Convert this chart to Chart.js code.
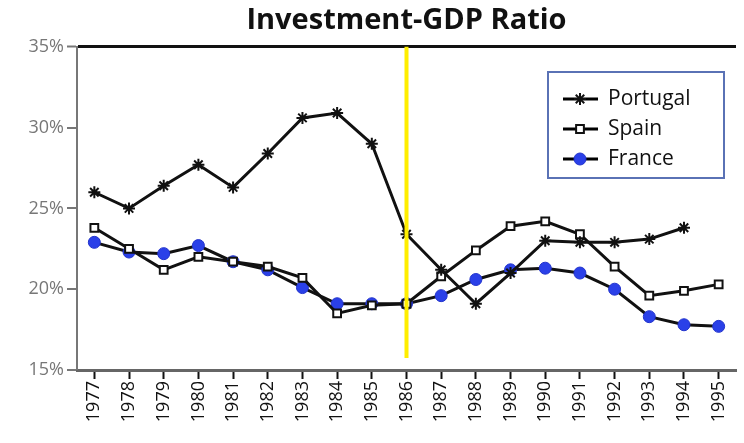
<!DOCTYPE html>
<html>
<head>
<meta charset="utf-8">
<script src="https://cdn.jsdelivr.net/npm/chart.js@4"></script>
<style>
  html, body { margin: 0; padding: 0; background: #fff; }
  #wrap { width: 744px; height: 443px; }
</style>
</head>
<body>
<div id="wrap"><canvas id="myChart"></canvas></div>
<script>
const ctx = document.getElementById('myChart');

const years = ['1977','1978','1979','1980','1981','1982','1983','1984','1985','1986',
               '1987','1988','1989','1990','1991','1992','1993','1994','1995'];
const portugal = [26.0, 25.0, 26.4, 27.7, 26.3, 28.4, 30.6, 30.9, 29.0, 23.4,
                  21.2, 19.1, 21.0, 23.0, 22.9, 22.9, 23.1, 23.8, null];
const spain = [23.8, 22.5, 21.2, 22.0, 21.7, 21.4, 20.7, 18.5, 19.0, 19.1,
               20.8, 22.4, 23.9, 24.2, 23.4, 21.4, 19.6, 19.9, 20.3];
const france = [22.9, 22.3, 22.2, 22.7, 21.7, 21.2, 20.1, 19.1, 19.1, 19.1,
                19.6, 20.6, 21.2, 21.3, 21.0, 20.0, 18.3, 17.8, 17.7];
const yTicks = [15, 20, 25, 30, 35];
const markYear = '1986';

// yellow marker line + boxed legend
const extras = {
    id: 'extras',
    afterDatasetsDraw(chart) {
        const c = chart.ctx;
        const x = chart.scales.x.getPixelForValue(years.indexOf(markYear));
        c.save();
        c.strokeStyle = '#ffee00';
        c.lineWidth = 4;
        c.beginPath();
        c.moveTo(x, chart.chartArea.top);
        c.lineTo(x, chart.chartArea.bottom - 12);
        c.stroke();
        c.restore();
    },
    afterDraw(chart) {
        const c = chart.ctx;
        const lx = 548, ly = 72, lw = 176, lh = 106;
        c.save();
        c.strokeStyle = '#5a72b5';
        c.lineWidth = 2;
        c.strokeRect(lx, ly, lw, lh);
        c.font = '21px "Open Sans"';
        c.textBaseline = 'middle';
        chart.data.datasets.forEach((ds, i) => {
            const y = ly + 27 + i * 30;
            c.strokeStyle = '#000';
            c.lineWidth = 3;
            c.beginPath();
            c.moveTo(563, y);
            c.lineTo(598, y);
            c.stroke();
            c.fillStyle = ds.pointBackgroundColor;
            c.strokeStyle = ds.pointBorderColor;
            c.lineWidth = ds.pointBorderWidth;
            Chart.helpers.drawPoint(c, {
                pointStyle: ds.pointStyle,
                radius: ds.pointRadius,
                borderWidth: ds.pointBorderWidth,
                rotation: 0
            }, 580, y);
            c.fillStyle = '#111';
            c.fillText(ds.label, 608, y);
        });
        c.restore();
    }
};

new Chart(ctx, {
    type: 'line',
    data: {
        labels: years,
        datasets: [{
            label: 'Portugal',
            data: portugal,
            borderColor: '#111',
            borderWidth: 3,
            pointStyle: 'star',
            pointRadius: 6,
            pointBorderWidth: 2,
            pointBorderColor: '#111',
            pointBackgroundColor: '#111',
            tension: 0
        }, {
            label: 'Spain',
            data: spain,
            borderColor: '#111',
            borderWidth: 3,
            pointStyle: 'rect',
            pointRadius: 5.5,
            pointBorderWidth: 2,
            pointBorderColor: '#111',
            pointBackgroundColor: '#fff',
            tension: 0
        }, {
            label: 'France',
            data: france,
            borderColor: '#111',
            borderWidth: 3,
            pointStyle: 'circle',
            pointRadius: 6,
            pointBorderWidth: 1,
            pointBorderColor: '#2233cc',
            pointBackgroundColor: '#2a40e8',
            tension: 0
        }]
    },
    options: {
        responsive: true,
        maintainAspectRatio: false,
        animation: false,
        layout: { padding: { left: 0, right: 0, top: 0, bottom: 0 } },
        plugins: {
            legend: { display: false },
            tooltip: { enabled: false },
            title: {
                display: true,
                text: 'Investment-GDP Ratio',
                fullSize: false,
                color: '#111',
                font: { family: 'Open Sans', size: 29, weight: 'bold', lineHeight: 1.2 },
                padding: { top: 3, bottom: 9 }
            }
        },
        scales: {
            x: {
                offset: true,
                grid: {
                    drawOnChartArea: false,
                    tickLength: 9,
                    tickColor: '#111',
                    tickWidth: 2,
                    offset: false
                },
                border: { color: '#666', width: 3 },
                ticks: {
                    autoSkip: false,
                    maxRotation: 90,
                    minRotation: 90,
                    color: '#111',
                    font: { family: 'Open Sans', size: 18 },
                    padding: 2
                },
                afterFit(scale) { scale.height = 73; }
            },
            y: {
                min: 15,
                max: 35,
                afterBuildTicks(scale) { scale.ticks = yTicks.map(v => ({ value: v })); },
                grid: {
                    drawOnChartArea: true,
                    color: c => c.tick && c.tick.value === 35 ? '#111' : 'rgba(0,0,0,0)',
                    lineWidth: c => c.tick && c.tick.value === 35 ? 3 : 0,
                    tickLength: 10,
                    tickColor: '#777',
                    tickWidth: 2
                },
                border: { color: '#777', width: 2 },
                ticks: {
                    color: '#777',
                    font: { family: 'Open Sans', size: 18 },
                    padding: 3,
                    callback: v => v + '%'
                },
                afterFit(scale) { scale.width = 77; }
            }
        }
    },
    plugins: [extras]
});
</script>
</body>
</html>
